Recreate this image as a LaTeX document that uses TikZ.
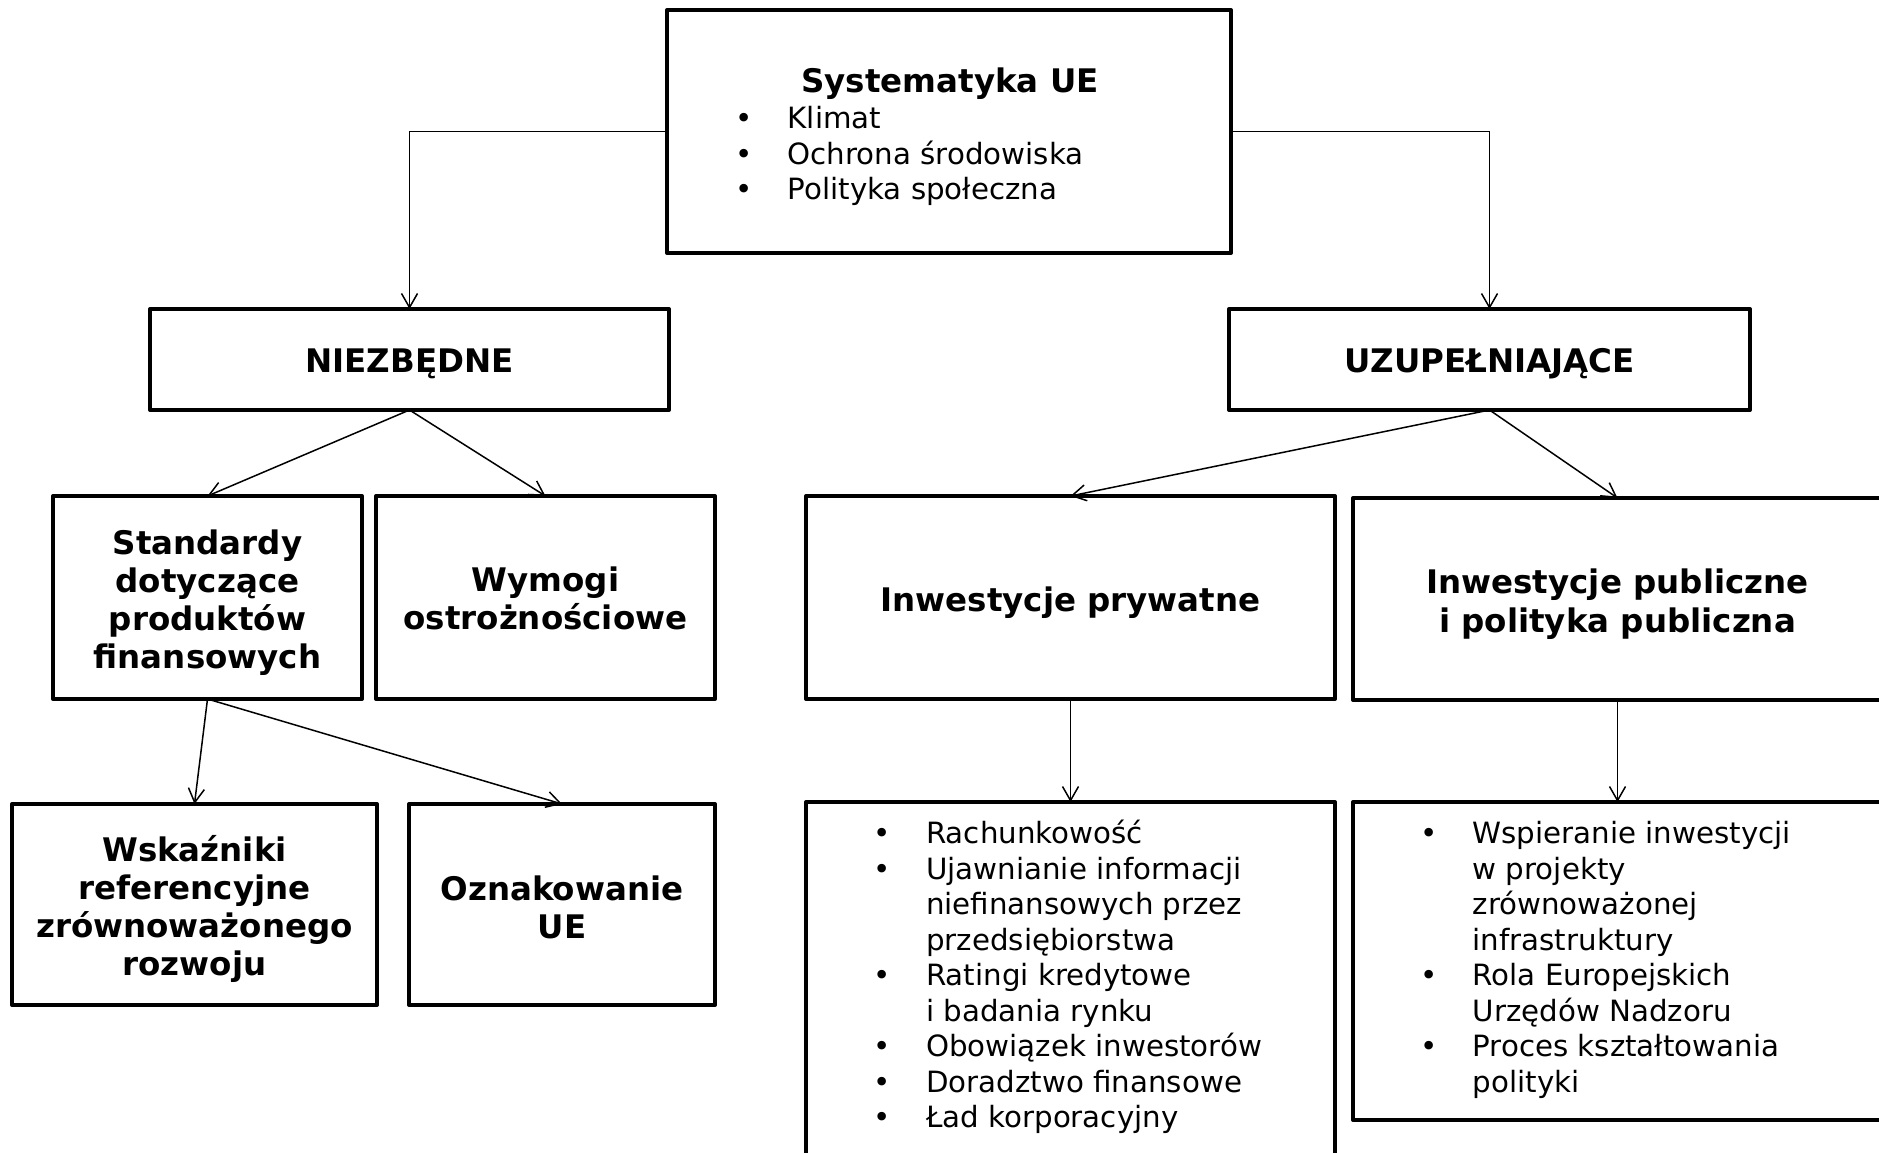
\documentclass[tikz,border=0pt]{standalone}
\usepackage{fontspec}
\setmainfont{DejaVu Sans}
\usetikzlibrary{arrows.meta}
\newcommand\bul{\llap{\makebox[88bp][c]{•}}}
\newcommand\dn{\rule{0pt}{35bp}}
\begin{document}
\begin{tikzpicture}[x=1bp,y=-1bp,
  box/.style={draw, line width=4bp, line join=round, inner sep=0pt, outer sep=0pt},
  arr/.style={line width=1.5bp, -{Straight Barb[length=14bp,width=16bp,line width=1.5bp]}},
  btxt/.style={font=\fontsize{32.6}{38.3}\selectfont\bfseries, align=center},
  rtxt/.style={font=\fontsize{29.4}{35.5}\selectfont, anchor=base west, inner sep=0pt}]
\useasboundingbox (0,0) rectangle (1879,1152);
\fill[white] (0,0) rectangle (1879,1152);
\clip (0,0) rectangle (1879,1152);

% boxes
\node[box, minimum width=564bp, minimum height=243bp] (top) at (949,131.5) {};
\node[box, btxt, minimum width=519bp, minimum height=101bp] (niez) at (409.5,359.5) {\rule{0pt}{33bp}NIEZBĘDNE};
\node[box, btxt, minimum width=521bp, minimum height=101bp] (uzup) at (1489.5,359.5) {\rule{0pt}{33bp}UZUPEŁNIAJĄCE};
\node[box, btxt, minimum width=309bp, minimum height=203bp] (std) at (207.5,597.5) {\dn Standardy\\dotyczące\\produktów\\finansowych};
\node[box, btxt, minimum width=339bp, minimum height=203bp] (wym) at (545.5,597.5) {\rule{0pt}{27bp}Wymogi\\ostrożnościowe};
\node[box, btxt, minimum width=529bp, minimum height=203bp] (priv) at (1070.5,597.5) {\dn Inwestycje prywatne};
\node[box, btxt, minimum width=529bp, minimum height=202bp] (pub) at (1617.5,599) {\dn Inwestycje publiczne\\i polityka publiczna};
\node[box, btxt, minimum width=365bp, minimum height=201bp] (wsk) at (194.5,904.5) {\dn Wskaźniki\\referencyjne\\zrównoważonego\\rozwoju};
\node[box, btxt, minimum width=306bp, minimum height=201bp] (ozn) at (562,904.5) {\rule{0pt}{31bp}Oznakowanie\\UE};
\node[box, minimum width=529bp, minimum height=368bp] (privl) at (1070.5,986) {};
\node[box, minimum width=529bp, minimum height=318bp] (publ) at (1617.5,961) {};

% top box text
\node[font=\fontsize{32.6}{38.3}\selectfont\bfseries, anchor=base, inner sep=0pt] (t0) at (950,92) {Systematyka UE};
\node[rtxt] (t1) at (787.5,128.5) {\bul Klimat};
\node[rtxt] (t2) at (787.5,164) {\bul Ochrona środowiska};
\node[rtxt] (t3) at (787.5,199.5) {\bul Polityka społeczna};

% private list
\node[rtxt] (p1) at (926,843.5) {\bul Rachunkowość};
\node[rtxt] (p2) at (926,879) {\bul Ujawnianie informacji};
\node[rtxt] (p3) at (926,914.5) {niefinansowych przez};
\node[rtxt] (p4) at (926,950) {przedsiębiorstwa};
\node[rtxt] (p5) at (926,985.5) {\bul Ratingi kredytowe};
\node[rtxt] (p6) at (926,1021) {i badania rynku};
\node[rtxt] (p7) at (926,1056.5) {\bul Obowiązek inwestorów};
\node[rtxt] (p8) at (926,1092) {\bul Doradztwo finansowe};
\node[rtxt] (p9) at (926,1127.5) {\bul Ład korporacyjny};

% public list
\node[rtxt] (q1) at (1472.5,843.5) {\bul Wspieranie inwestycji};
\node[rtxt] (q2) at (1472.5,879) {w projekty};
\node[rtxt] (q3) at (1472.5,914.5) {zrównoważonej};
\node[rtxt] (q4) at (1472.5,950) {infrastruktury};
\node[rtxt] (q5) at (1472.5,985.5) {\bul Rola Europejskich};
\node[rtxt] (q6) at (1472.5,1021) {Urzędów Nadzoru};
\node[rtxt] (q7) at (1472.5,1056.5) {\bul Proces kształtowania};
\node[rtxt] (q8) at (1472.5,1092) {polityki};

% connectors
\draw[arr] (top.west) -| (niez.north);
\draw[arr] (top.east) -| (uzup.north);
\draw[arr] (niez.south) -- (std.north);
\draw[arr] (niez.south) -- (wym.north);
\draw[arr] (uzup.south) -- (priv.north);
\draw[arr] (uzup.south) -- (pub.north);
\draw[arr] (std.south) -- (wsk.north);
\draw[arr] (std.south) -- (ozn.north);
\draw[arr] (priv.south) -- (privl.north);
\draw[arr] (pub.south) -- (publ.north);
\end{tikzpicture}
\end{document}
